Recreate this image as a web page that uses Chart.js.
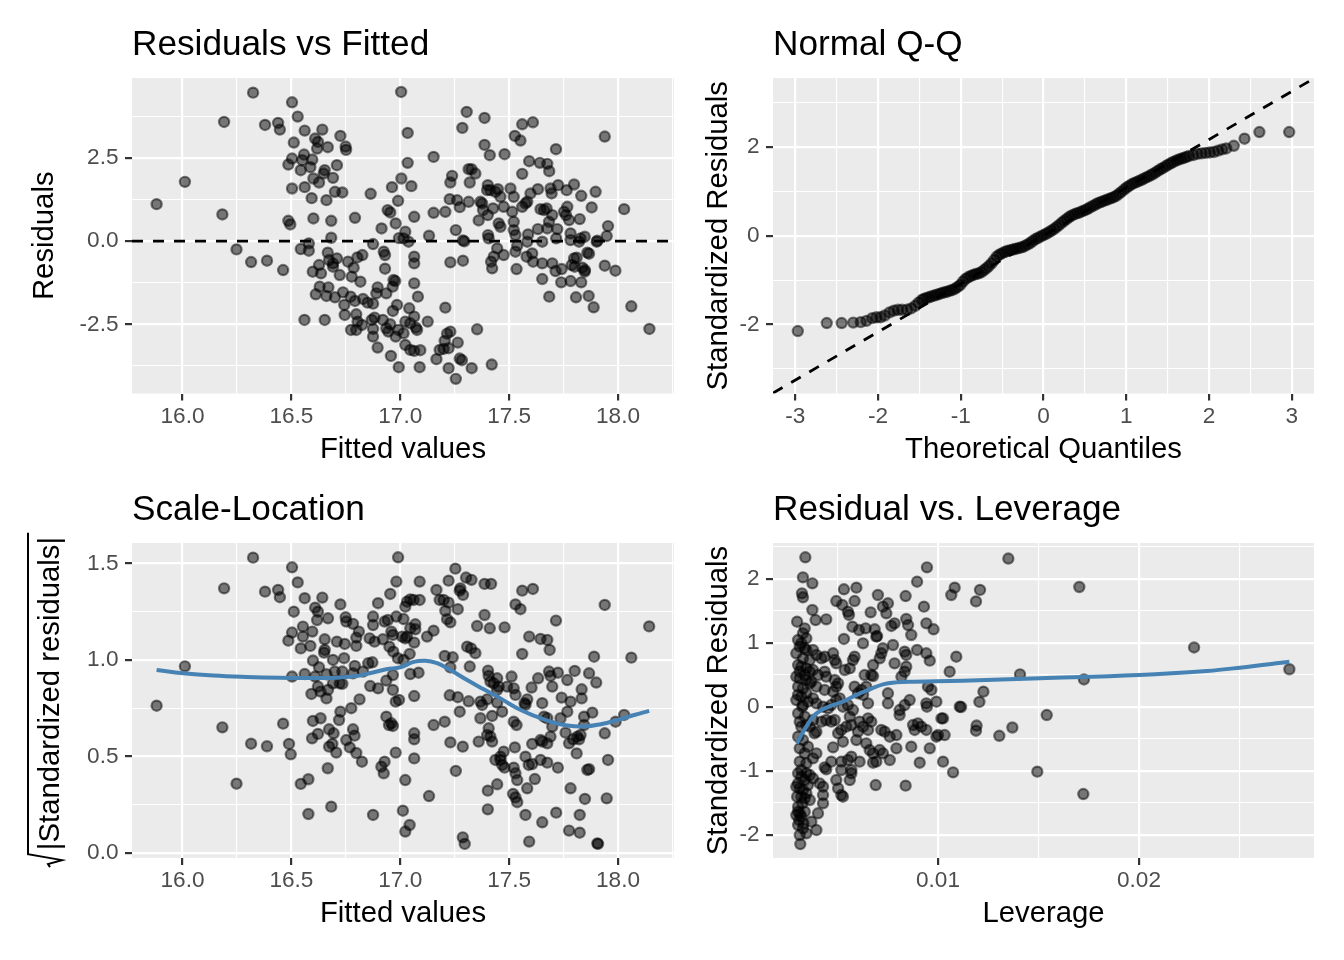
<!DOCTYPE html>
<html>
<head>
<meta charset="utf-8">
<script src="https://cdn.jsdelivr.net/npm/chart.js@4.4.1/dist/chart.umd.min.js"></script>
<style>
html, body { margin: 0; padding: 0; background: #fff; }
#wrap { position: relative; width: 1344px; height: 960px; }
#wrap canvas { position: absolute; left: 0; top: 0; }
</style>
</head>
<body>
<div id="wrap">
  <canvas id="resFit" width="1344" height="960"></canvas>
  <canvas id="qq" width="1344" height="960"></canvas>
  <canvas id="scaleLoc" width="1344" height="960"></canvas>
  <canvas id="resLev" width="1344" height="960"></canvas>
</div>
<script>
// ---- Residuals vs Fitted : [fitted, residual]
const residPoints = [
  [15.881,1.11],[16.011,1.78],[16.191,3.58],[16.183,0.80],[16.324,4.46],[16.248,-0.25],[16.315,-0.63],[16.388,-0.59],
  [16.462,-0.87],[16.379,3.49],[16.439,3.55],[16.447,3.35],[16.503,4.17],[16.529,3.74],[16.561,3.32],[16.642,3.35],
  [16.725,3.16],[16.749,2.84],[16.751,2.74],[16.609,3.08],[16.622,2.98],[16.618,2.78],[16.667,2.82],[16.511,2.96],
  [16.503,2.48],[16.486,2.30],[16.558,2.60],[16.550,2.43],[16.596,2.45],[16.587,2.22],[16.543,2.13],[16.653,2.13],
  [16.648,2.03],[16.709,2.28],[16.691,1.90],[16.601,1.88],[16.627,1.76],[16.503,1.58],[16.561,1.62],[16.700,1.48],
  [16.734,1.46],[16.593,1.29],[16.661,1.23],[16.864,1.42],[16.962,1.62],[17.005,1.88],[16.990,1.21],[16.942,0.93],
  [16.954,0.86],[16.979,0.53],[16.914,0.38],[16.792,0.70],[16.683,0.61],[16.601,0.68],[16.486,0.61],[16.495,0.50],
  [16.683,0.10],[16.875,-0.09],[16.994,0.09],[16.580,-0.07],[16.543,-0.24],[16.580,-0.29],[16.667,-0.35],[16.627,-0.72],
  [16.673,-0.57],[16.691,-0.67],[16.709,-0.52],[16.691,-0.77],[16.598,-0.92],[16.636,-0.97],[16.722,-1.02],[16.760,-0.62],
  [16.803,-0.49],[16.826,-0.42],[16.786,-0.80],[16.777,-1.07],[16.817,-1.22],[16.924,-0.32],[16.930,-0.42],[16.930,-0.83],
  [16.969,-1.17],[16.630,-1.37],[16.670,-1.39],[16.612,-1.60],[16.661,-1.65],[16.700,-1.69],[16.737,-1.54],[16.743,-1.92],
  [16.772,-1.67],[16.792,-1.80],[16.829,-1.74],[16.850,-1.85],[16.875,-1.88],[16.896,-1.39],[16.890,-1.57],[16.936,-1.57],
  [16.965,-1.37],[16.977,-1.20],[16.985,-1.92],[16.966,-2.10],[16.560,-2.37],[16.653,-2.37],[16.745,-2.22],[16.798,-2.20],
  [16.804,-2.42],[16.774,-2.67],[16.798,-2.67],[16.824,-2.52],[16.869,-2.37],[16.882,-2.30],[16.875,-2.64],[16.875,-2.87],
  [16.920,-2.37],[16.936,-2.62],[16.954,-2.50],[16.945,-2.72],[16.979,-2.87],[16.991,-2.67],[16.896,-3.20],[16.957,-3.45],
  [16.993,-3.79],[17.004,4.48],
  [17.034,3.25],[17.034,2.35],[17.051,1.65],[17.064,0.73],[17.023,0.28],[17.015,0.08],[17.038,-0.02],[17.064,-0.47],
  [17.064,-0.67],[17.064,-1.27],[17.081,-1.67],[17.041,-2.02],[17.064,-2.27],[17.023,-2.42],[17.046,-2.47],[17.072,-2.60],
  [17.077,-2.67],[17.015,-2.77],[17.023,-3.12],[17.046,-3.27],[17.064,-3.30],[17.092,-3.28],[17.089,-3.79],[17.126,-2.42],
  [17.207,-2.00],[17.166,-3.55],[17.181,-3.27],[17.199,-3.24],[17.204,-3.00],[17.215,-2.78],[17.230,-2.72],[17.222,-3.22],
  [17.222,-3.82],[17.264,-3.05],[17.273,-3.53],[17.283,-3.58],[17.255,-4.14],[17.328,-3.82],[17.353,-2.65],[17.420,-3.71],
  [17.153,2.53],[17.285,3.40],[17.305,3.88],[17.387,3.70],[17.387,2.89],[17.411,2.58],[17.479,2.61],[17.526,3.16],
  [17.552,3.02],[17.560,3.51],[17.609,3.57],[17.715,2.76],[17.939,3.14],[17.592,2.40],[17.641,2.35],[17.675,2.32],
  [17.684,2.10],[17.560,2.02],[17.314,2.16],[17.327,2.16],[17.345,2.03],[17.238,1.96],[17.230,1.76],[17.319,1.76],
  [17.227,1.26],[17.261,1.23],[17.273,1.02],[17.314,1.18],[17.153,0.85],[17.207,0.88],[17.255,0.33],[17.132,0.16],
  [17.288,0.02],[17.294,-0.01],[17.230,-0.64],[17.288,-0.59],[17.402,1.68],[17.414,1.53],[17.437,1.48],[17.448,1.56],
  [17.399,1.53],[17.368,1.18],[17.376,1.13],[17.380,0.93],[17.402,0.78],[17.360,0.62],[17.426,0.98],[17.460,1.33],
  [17.475,1.03],[17.506,1.58],[17.521,1.33],[17.514,0.88],[17.452,0.53],[17.460,0.43],[17.403,0.18],[17.406,0.08],
  [17.521,0.58],[17.521,0.33],[17.529,0.18],[17.560,1.03],[17.575,1.13],[17.583,1.18],[17.598,1.43],[17.632,1.56],
  [17.587,0.20],[17.583,-0.02],[17.537,-0.14],[17.529,-0.32],[17.445,-0.22],[17.429,-0.47],[17.417,-0.62],[17.422,-0.82],
  [17.475,-0.42],[17.534,-0.84],[17.580,-0.47],[17.606,-0.37],[17.610,-0.62],[17.652,-0.02],[17.652,-0.67],[17.652,-1.14],
  [17.684,-1.67],[17.644,0.96],[17.660,0.93],[17.672,0.98],[17.675,0.38],[17.683,0.58],[17.698,0.78],[17.632,0.36],
  [17.690,1.58],[17.695,1.43],[17.725,1.68],[17.764,1.53],[17.798,1.70],[17.831,1.36],[17.897,1.48],[17.879,1.01],
  [17.824,0.66],[17.752,0.88],[17.767,1.03],[17.775,0.63],[17.761,0.78],[17.721,0.36],[17.716,0.08],[17.782,0.23],
  [17.782,0.03],[17.828,0.08],[17.821,-0.02],[17.847,0.13],[17.905,0.01],[17.902,-0.02],[17.948,0.15],[17.954,0.45],
  [17.859,-0.35],[17.867,-0.38],[17.798,-0.52],[17.810,-0.50],[17.787,-0.72],[17.801,-0.77],[17.836,-0.80],[17.847,-0.92],
  [17.848,-0.87],[17.698,-0.67],[17.713,-0.90],[17.741,-0.84],[17.739,-1.24],[17.782,-1.20],[17.831,-1.24],[17.807,-1.69],
  [17.865,-1.65],[17.888,-1.99],[17.939,-0.74],[17.988,-0.89],[18.028,0.96],[18.061,-1.96],[18.144,-2.64]
];
const residRefY = 0;

// ---- Normal Q-Q : theoretical quantile / standardized residual
const qqTheo = [
  -2.97,-2.62,-2.44,-2.30,-2.21,-2.14,-2.07,-2.02,-1.97,-1.92,-1.86,-1.81,-1.76,-1.71,-1.65,-1.60,-1.55,-1.51,-1.47,
  -1.445,-1.413,-1.382,-1.351,-1.319,-1.288,-1.256,-1.225,-1.193,-1.162,
  -1.131,-1.099,-1.068,-1.036,-1.005,-0.974,-0.942,-0.911,-0.879,-0.848,
  -0.817,-0.785,-0.754,-0.722,-0.691,-0.660,-0.628,-0.597,-0.565,-0.534,
  -0.503,-0.471,-0.440,-0.408,-0.377,-0.345,-0.314,-0.283,-0.251,-0.220,
  -0.188,-0.157,-0.126,-0.094,-0.063,-0.031,0.000,0.031,0.063,0.094,
  0.126,0.157,0.188,0.220,0.251,0.283,0.314,0.345,0.377,0.408,
  0.440,0.471,0.503,0.534,0.565,0.597,0.628,0.660,0.691,0.722,
  0.754,0.785,0.817,0.848,0.879,0.911,0.942,0.974,1.005,1.036,
  1.068,1.099,1.131,1.162,1.193,1.225,1.256,1.288,1.319,1.351,
  1.382,1.413,1.445,1.476,1.508,1.539,1.570,1.602,1.633,1.665,
  1.696,1.727,1.759,
  1.81,1.86,1.91,1.96,2.01,2.06,2.11,2.16,2.21,2.30,2.43,2.61,2.97
];
const qqSample = [
  -2.15,-1.97,-1.97,-1.96,-1.95,-1.92,-1.86,-1.84,-1.84,-1.80,-1.73,-1.69,-1.67,-1.67,-1.67,-1.64,-1.58,-1.51,-1.45,
  -1.425,-1.403,-1.388,-1.365,-1.350,-1.328,-1.313,-1.290,-1.275,-1.260,
  -1.238,-1.223,-1.193,-1.155,-1.110,-1.035,-0.975,-0.938,-0.908,-0.885,
  -0.863,-0.848,-0.825,-0.780,-0.735,-0.683,-0.623,-0.548,-0.473,-0.428,
  -0.398,-0.368,-0.345,-0.330,-0.315,-0.300,-0.285,-0.270,-0.255,-0.225,
  -0.195,-0.158,-0.113,-0.075,-0.045,-0.015,0.015,0.045,0.075,0.113,
  0.150,0.195,0.240,0.293,0.338,0.383,0.428,0.458,0.488,0.510,
  0.525,0.555,0.578,0.608,0.638,0.675,0.705,0.735,0.758,0.780,
  0.803,0.825,0.848,0.870,0.900,0.945,0.990,1.043,1.088,1.125,
  1.163,1.193,1.215,1.245,1.268,1.298,1.328,1.358,1.388,1.425,
  1.463,1.500,1.530,1.568,1.605,1.635,1.665,1.695,1.718,1.740,
  1.755,1.778,1.800,
  1.82,1.85,1.86,1.87,1.88,1.89,1.92,1.95,1.97,2.03,2.19,2.34,2.34
];
const qqLineX = [-3.27, 3.27];
const qqLineY = [-3.55, 3.55];

// ---- Scale-Location : [fitted, sqrt|std resid|]
const scalePoints = [
  [15.881,0.763],[16.011,0.967],[16.191,1.371],[16.324,1.530],[16.183,0.651],[16.248,0.359],[16.315,0.566],[16.388,0.553],
  [16.462,0.670],[16.489,0.565],[16.497,0.511],[16.379,1.354],[16.439,1.363],[16.447,1.325],[16.503,1.480],[16.529,1.402],
  [16.561,1.320],[16.642,1.323],[16.725,1.288],[16.609,1.271],[16.622,1.250],[16.618,1.207],[16.668,1.216],[16.511,1.250],
  [16.503,1.142],[16.486,1.100],[16.553,1.173],[16.596,1.147],[16.553,1.121],[16.587,1.073],[16.543,1.060],[16.653,1.107],
  [16.653,1.052],[16.650,1.038],[16.709,1.095],[16.745,1.083],[16.749,1.221],[16.752,1.199],[16.783,1.187],[16.810,1.147],
  [16.798,1.116],[16.798,1.073],[16.875,1.225],[16.898,1.294],[16.875,1.181],[16.954,1.342],[16.982,1.406],[16.990,1.532],
  [16.859,1.112],[16.882,1.095],[16.928,1.199],[16.943,1.207],[16.920,1.107],[16.959,1.147],[16.966,1.130],[16.982,1.225],
  [16.950,1.069],[16.968,1.043],[16.989,1.009],[16.599,0.997],[16.627,0.962],[16.691,1.000],[16.742,1.009],[16.791,0.969],
  [16.853,0.983],[16.872,0.988],[16.503,0.914],[16.561,0.927],[16.609,0.914],[16.661,0.926],[16.699,0.940],[16.734,0.940],
  [16.783,0.931],[16.829,0.940],[16.622,0.862],[16.634,0.836],[16.668,0.845],[16.691,0.879],[16.722,0.879],[16.734,0.876],
  [16.592,0.824],[16.661,0.801],[16.862,0.865],[16.898,0.853],[16.936,0.893],[16.966,0.922],[16.966,0.845],[16.979,0.784],
  [16.994,0.793],[16.813,0.796],[16.775,0.750],[16.725,0.732],[16.719,0.689],[16.599,0.684],[16.634,0.698],[16.595,0.594],
  [16.622,0.617],[16.673,0.641],[16.694,0.620],[16.673,0.551],[16.688,0.565],[16.706,0.520],[16.752,0.585],[16.768,0.547],
  [16.783,0.641],[16.790,0.608],[16.798,0.518],[16.824,0.473],[16.936,0.706],[16.948,0.663],[16.959,0.672],[16.966,0.658],
  [16.913,0.447],[16.924,0.413],[16.928,0.473],[16.979,0.520],[16.667,0.439],[16.578,0.382],[16.543,0.358],[16.683,0.240],
  [16.578,0.202],[16.875,0.197],
  [17.015,1.212],[17.008,1.121],[17.023,1.112],[17.089,1.406],[17.031,1.302],[17.046,1.314],[17.061,1.311],[17.089,1.311],
  [17.023,1.276],[17.069,1.185],[17.069,1.159],[17.046,1.164],[17.031,1.121],[17.064,1.090],[17.123,1.121],[17.153,1.152],
  [17.043,1.031],[17.015,1.000],[17.046,0.927],[17.084,0.934],[17.064,0.813],[17.064,0.620],[17.064,0.589],[17.064,0.490],
  [17.023,0.378],[17.012,0.219],[17.023,0.111],[17.043,0.145],[17.132,0.295],[17.153,0.663],[17.204,0.680],[17.230,0.573],
  [17.287,0.551],[17.255,0.425],[17.287,0.081],[17.296,0.047],[17.166,1.363],[17.181,1.311],[17.199,1.311],[17.222,1.297],
  [17.222,1.411],[17.253,1.473],[17.276,1.371],[17.273,1.359],[17.288,1.337],[17.302,1.427],[17.327,1.415],[17.207,1.254],
  [17.215,1.211],[17.230,1.195],[17.264,1.263],[17.387,1.394],[17.417,1.394],[17.387,1.233],[17.353,1.176],[17.411,1.164],
  [17.479,1.169],[17.307,1.069],[17.325,1.060],[17.345,1.035],[17.204,1.021],[17.241,1.014],[17.230,0.962],[17.319,0.966],
  [17.227,0.817],[17.264,0.807],[17.314,0.786],[17.273,0.732],[17.368,0.784],[17.376,0.767],[17.399,0.796],[17.445,0.779],
  [17.403,0.945],[17.406,0.917],[17.414,0.888],[17.429,0.879],[17.445,0.905],[17.452,0.862],[17.445,0.845],[17.491,0.862],
  [17.511,0.914],[17.521,0.853],[17.529,0.819],[17.368,0.698],[17.406,0.646],[17.414,0.603],[17.399,0.611],[17.422,0.577],
  [17.422,0.710],[17.360,0.577],[17.468,0.732],[17.521,0.680],[17.534,0.663],[17.475,0.525],[17.460,0.499],[17.437,0.482],
  [17.460,0.482],[17.468,0.456],[17.479,0.442],[17.526,0.547],[17.521,0.442],[17.529,0.413],[17.537,0.378],[17.402,0.323],
  [17.445,0.356],[17.402,0.226],[17.518,0.306],[17.529,0.288],[17.537,0.263],[17.575,0.197],[17.592,0.059],[17.652,0.159],
  [17.716,0.209],[17.583,0.335],[17.618,0.383],[17.575,0.499],[17.590,0.456],[17.606,0.461],[17.644,0.482],[17.675,0.468],
  [17.724,0.442],[17.529,1.288],[17.552,1.263],[17.560,1.359],[17.609,1.368],[17.592,1.121],[17.644,1.109],[17.675,1.104],
  [17.686,1.052],[17.560,1.031],[17.715,1.204],[17.939,1.285],[18.143,1.174],[17.890,1.017],[18.061,1.012],[17.571,0.776],
  [17.575,0.767],[17.583,0.796],[17.603,0.857],[17.633,0.905],[17.652,0.776],[17.683,0.940],[17.690,0.917],[17.698,0.862],
  [17.724,0.934],[17.767,0.896],[17.801,0.943],[17.833,0.848],[17.833,0.801],[17.867,0.931],[17.900,0.883],[17.741,0.805],
  [17.782,0.784],[17.767,0.732],[17.660,0.706],[17.675,0.698],[17.698,0.655],[17.690,0.603],[17.652,0.577],[17.675,0.568],
  [17.644,0.585],[17.606,0.565],[17.736,0.698],[17.759,0.623],[17.775,0.568],[17.794,0.589],[17.813,0.603],[17.828,0.611],
  [17.821,0.589],[17.810,0.516],[17.844,0.706],[17.882,0.727],[17.844,0.663],[17.939,0.620],[17.989,0.680],[18.028,0.715],
  [17.954,0.482],[17.859,0.430],[17.867,0.434],[17.782,0.335],[17.848,0.280],[17.948,0.283],[17.824,0.197],[17.775,0.116],
  [17.824,0.105],[17.905,0.050],[17.908,0.047]
];
const scaleSmoothX = [15.881,16.003,16.141,16.294,16.446,16.599,16.706,16.798,16.859,16.936,17.000,17.061,17.115,17.169,
  17.230,17.307,17.383,17.460,17.537,17.613,17.690,17.767,17.844,17.920,17.997,18.074,18.143];
const scaleSmoothY = [0.948,0.931,0.919,0.912,0.908,0.907,0.908,0.917,0.931,0.952,0.962,0.990,0.996,0.983,
  0.948,0.896,0.848,0.801,0.750,0.712,0.680,0.660,0.655,0.667,0.689,0.715,0.736];

// ---- Residual vs. Leverage : [leverage, std resid]
const leveragePoints = [
  [0.00340,2.339],[0.00328,2.026],[0.00375,1.932],[0.00323,1.776],[0.00328,1.714],[0.00375,1.516],[0.00391,1.359],[0.00444,1.370],
  [0.00299,1.333],[0.00337,1.229],[0.00328,1.151],[0.00345,1.073],[0.00304,1.047],[0.00312,0.943],[0.00320,0.995],[0.00337,0.917],
  [0.00345,0.891],[0.00378,0.891],[0.00395,0.813],[0.00420,0.760],[0.00436,0.786],[0.00478,0.839],[0.00486,0.734],[0.00494,0.682],
  [0.00304,0.656],[0.00320,0.630],[0.00345,0.604],[0.00362,0.552],[0.00378,0.578],[0.00403,0.500],[0.00436,0.552],[0.00444,0.474],
  [0.00295,0.474],[0.00312,0.448],[0.00345,0.422],[0.00362,0.370],[0.00370,0.396],[0.00395,0.318],[0.00436,0.266],[0.00486,0.422],
  [0.00494,0.318],[0.00478,0.240],[0.00503,0.370],[0.00304,0.188],[0.00320,0.161],[0.00345,0.214],[0.00378,0.135],[0.00395,0.057],
  [0.00295,0.109],[0.00325,0.005],[0.00328,0.031],[0.00312,-0.229],[0.00320,-0.307],[0.00345,-0.281],[0.00378,-0.203],[0.00395,-0.385],
  [0.00386,-0.411],[0.00420,-0.229],[0.00444,-0.203],[0.00469,-0.229],[0.00486,-0.203],[0.00503,-0.411],[0.00527,-0.542],[0.00519,-0.359],
  [0.00544,-0.307],[0.00569,-0.281],[0.00312,-0.646],[0.00353,-0.620],[0.00337,-0.724],[0.00378,-0.802],[0.00395,-0.724],[0.00478,-0.630],
  [0.00436,-0.943],[0.00444,-0.974],[0.00312,-0.854],[0.00304,-1.036],[0.00320,-0.984],[0.00345,-1.036],[0.00362,-1.063],[0.00378,-1.115],
  [0.00337,-1.141],[0.00295,-1.245],[0.00312,-1.271],[0.00328,-1.297],[0.00345,-1.349],[0.00320,-1.401],[0.00337,-1.427],[0.00362,-1.453],
  [0.00411,-1.193],[0.00428,-1.245],[0.00428,-1.375],[0.00428,-1.505],[0.00403,-1.661],[0.00395,-1.922],[0.00370,-1.792],[0.00304,-1.557],
  [0.00312,-1.661],[0.00320,-1.714],[0.00304,-1.844],[0.00328,-1.896],[0.00345,-1.974],[0.00295,-1.688],[0.00312,-2.000],[0.00315,-2.141],
  [0.00469,-0.854],[0.00519,-0.854],[0.00552,-0.828],[0.00569,-0.776],[0.00494,-1.141],[0.00503,-1.271],[0.00519,-1.375],[0.00527,-1.401],
  [0.00561,-1.141],[0.00519,-0.984],[0.00569,-0.984],[0.00569,-1.036],
  [0.00299,-1.401],[0.00325,-1.505],[0.00304,-1.635],[0.00337,-1.635],[0.00309,-1.766],[0.00331,-1.818],[0.00304,-1.193],[0.00353,-1.219],
  [0.00320,-1.089],[0.00295,0.839],[0.00328,0.760],[0.00362,0.734],[0.00312,0.552],[0.00337,0.500],[0.00304,0.318],[0.00328,0.292],
  [0.00353,0.083],[0.00304,-0.099],[0.00337,-0.151],[0.00362,-0.307],[0.00304,-0.464],[0.00328,-0.516],[0.00345,-0.880],
  [0.00532,1.839],[0.00594,1.865],[0.00494,1.656],[0.00524,1.594],[0.00585,1.656],[0.00552,1.490],[0.00557,1.438],[0.00574,1.255],
  [0.00607,1.203],[0.00640,1.229],[0.00532,1.063],[0.00627,0.995],[0.00665,1.479],[0.00701,1.750],[0.00751,1.620],[0.00726,1.568],
  [0.00743,1.464],[0.00768,1.266],[0.00784,1.307],[0.00685,1.214],[0.00693,1.099],[0.00697,1.109],[0.00776,0.969],[0.00726,0.917],
  [0.00718,0.839],[0.00710,0.760],[0.00677,0.656],[0.00668,0.500],[0.00677,0.484],[0.00635,0.500],[0.00643,0.318],[0.00585,0.786],
  [0.00577,0.734],[0.00561,0.604],[0.00536,0.578],[0.00585,0.318],[0.00619,0.266],[0.00627,0.188],[0.00652,0.057],[0.00602,0.214],
  [0.00511,0.135],[0.00494,0.109],[0.00527,0.005],[0.00552,0.031],[0.00428,0.005],[0.00453,-0.021],[0.00469,0.031],[0.00577,-0.047],
  [0.00561,-0.151],[0.00610,-0.229],[0.00627,-0.307],[0.00652,-0.359],[0.00652,-0.177],[0.00668,-0.229],[0.00602,-0.385],[0.00594,-0.516],
  [0.00643,-0.568],[0.00660,-0.672],[0.00677,-0.724],[0.00710,-0.672],[0.00726,-0.724],[0.00760,-0.828],[0.00693,-0.854],[0.00677,-0.870],
  [0.00610,-0.854],[0.00718,-0.359],[0.00735,-0.385],[0.00760,-0.464],[0.00793,-0.438],[0.00793,-0.646],[0.00690,-1.219],[0.00839,-1.229],
  [0.00751,0.214],[0.00751,0.057],[0.00809,-0.047],[0.00809,-0.125],[0.00834,0.031],[0.00859,0.109],[0.00842,0.630],[0.00842,0.813],
  [0.00834,0.865],[0.00784,0.682],[0.00839,1.734],[0.00842,1.375],[0.00851,1.281],[0.00867,1.125],[0.00818,0.474],[0.00834,0.552],
  [0.00876,-0.281],[0.00884,-0.359],[0.00900,-0.255],[0.00942,-0.359],[0.00917,-0.307],[0.00867,-0.620],[0.00909,-0.870],[0.00959,-0.646],
  [0.00992,-0.464],[0.01000,-0.438],[0.01025,-0.177],[0.01017,-0.177],[0.01033,-0.438],[0.01025,-0.854],[0.01075,-1.021],[0.00896,1.958],
  [0.00945,2.182],[0.00930,1.568],[0.00942,1.307],[0.00978,1.214],[0.00896,0.891],[0.00942,0.839],[0.00959,0.724],[0.00950,0.318],
  [0.00967,0.266],[0.00942,0.057],[0.00945,0.005],[0.00992,0.083],[0.01058,0.552],[0.01091,0.786],[0.01066,1.750],[0.01083,1.865],
  [0.01108,0.005],[0.01115,0.000],
  [0.01350,2.320],[0.01209,1.830],[0.01189,1.650],[0.01703,1.875],[0.01408,0.510],[0.01726,0.430],[0.01226,0.240],[0.01206,0.080],
  [0.01192,-0.290],[0.01189,-0.370],[0.01305,-0.450],[0.01370,-0.320],[0.01541,-0.125],[0.01494,-1.010],[0.01723,-1.360],[0.02274,0.930],
  [0.02748,0.590]
];
const levSmoothX = [0.00298,0.00320,0.00345,0.00378,0.00420,0.00469,0.00527,0.00594,0.00660,0.00726,0.00793,0.00876,0.00992,
  0.01124,0.01507,0.02000,0.02337,0.02502,0.02748];
const levSmoothY = [-0.568,-0.438,-0.307,-0.151,-0.047,0.021,0.083,0.188,0.276,0.354,0.385,0.396,0.401,
  0.411,0.448,0.500,0.563,0.615,0.708];

// ---- axis breaks and labels
const fitMajor = [16.0, 16.5, 17.0, 17.5, 18.0];
const fitMinor = [16.25, 16.75, 17.25, 17.75, 18.25];
const fitLabels = ['16.0', '16.5', '17.0', '17.5', '18.0'];
const resMajor = [-2.5, 0, 2.5];
const resMinor = [-3.75, -1.25, 1.25, 3.75];
const resLabels = ['-2.5', '0.0', '2.5'];
const theoMajor = [-3, -2, -1, 0, 1, 2, 3];
const theoMinor = [-2.5, -1.5, -0.5, 0.5, 1.5, 2.5];
const theoLabels = ['-3', '-2', '-1', '0', '1', '2', '3'];
const qqYMajor = [-2, 0, 2];
const qqYMinor = [-3, -1, 1, 3];
const qqYLabels = ['-2', '0', '2'];
const slMajor = [0, 0.5, 1.0, 1.5];
const slMinor = [0.25, 0.75, 1.25];
const slLabels = ['0.0', '0.5', '1.0', '1.5'];
const levMajor = [0.01, 0.02];
const levMinor = [0.005, 0.015, 0.025];
const levLabels = ['0.01', '0.02'];
const lsMajor = [-2, -1, 0, 1, 2];
const lsMinor = [-1.5, -0.5, 0.5, 1.5, 2.5];
const lsLabels = ['-2', '-1', '0', '1', '2'];

const FONT = '"Liberation Sans", Arial, Helvetica, sans-serif';
const PT = 'rgba(0,0,0,0.5)';
const BLUE = '#4682B4';
const Y_W = 100, X_H = 80;

// grey panel behind the grid
const panelBg = {
    id: 'panelBg',
    beforeDraw(chart) {
        const {ctx, chartArea: a} = chart;
        ctx.save();
        ctx.fillStyle = '#EBEBEB';
        ctx.fillRect(a.left, a.top, a.right - a.left, a.bottom - a.top);
        ctx.restore();
    }
};

// titles drawn ggplot style, aligned to the panel
function titles(t) {
    return {
        id: 'ggText',
        afterDraw(chart) {
            const {ctx, chartArea: a} = chart;
            ctx.save();
            ctx.fillStyle = '#000';
            ctx.textBaseline = 'alphabetic';
            ctx.font = '35.2px ' + FONT;
            ctx.textAlign = 'left';
            ctx.fillText(t.title, a.left, a.top - 23);
            ctx.font = '29.3px ' + FONT;
            ctx.textAlign = 'center';
            ctx.fillText(t.x, (a.left + a.right) / 2, a.bottom + 64);
            ctx.translate(t.yBase, (a.top + a.bottom) / 2);
            ctx.rotate(-Math.PI / 2);
            if (t.sqrt) {
                const w = ctx.measureText(t.y).width;
                ctx.fillText(t.y, 7, 0);
                const u0 = 7 - w / 2 - 4, u1 = 7 + w / 2 + 4;
                ctx.strokeStyle = '#000';
                ctx.lineWidth = 2;
                ctx.beginPath();
                ctx.moveTo(u1, -31);
                ctx.lineTo(u0, -31);
                ctx.lineTo(u0 - 6, 3);
                ctx.lineTo(u0 - 10, -11);
                ctx.lineTo(u0 - 13, -9);
                ctx.stroke();
            } else {
                ctx.fillText(t.y, 0, 0);
            }
            ctx.restore();
        }
    };
}

function axis(min, max, major, minor, labels, horizontal) {
    const isMajor = v => major.includes(v);
    return {
        type: 'linear',
        position: horizontal ? 'bottom' : 'left',
        min: min,
        max: max,
        afterBuildTicks: s => { s.ticks = major.concat(minor).sort((a, b) => a - b).map(v => ({value: v})); },
        afterFit: s => { if (horizontal) s.height = X_H; else s.width = Y_W; },
        ticks: {
            autoSkip: false,
            maxRotation: 0,
            padding: horizontal ? 2.5 : 6.5,
            color: '#4D4D4D',
            font: {family: FONT, size: 22.6},
            callback: v => { const i = major.indexOf(v); return i < 0 ? '' : labels[i]; }
        },
        grid: {
            color: '#FFFFFF',
            lineWidth: c => isMajor(c.tick.value) ? 2.2 : 1.1,
            drawTicks: true,
            tickLength: 7,
            tickWidth: 2.2,
            tickColor: c => isMajor(c.tick.value) ? '#333333' : 'rgba(0,0,0,0)'
        },
        border: {display: false}
    };
}

function pointSet(pts) {
    return {
        data: pts.map(p => ({x: p[0], y: p[1]})),
        pointRadius: 5.1,
        pointBorderWidth: 2.2,
        pointBackgroundColor: PT,
        pointBorderColor: PT,
        showLine: false,
        order: 2
    };
}

function lineSet(xs, ys, color, width, dash, tension) {
    return {
        data: xs.map((x, i) => ({x: x, y: ys[i]})),
        showLine: true,
        pointRadius: 0,
        borderColor: color,
        borderWidth: width,
        borderDash: dash,
        tension: tension,
        fill: false,
        order: 1
    };
}

function panel(id, box, xAxis, yAxis, datasets, text) {
    new Chart(document.getElementById(id), {
        type: 'scatter',
        data: {datasets: datasets},
        options: {
            responsive: false,
            animation: false,
            events: [],
            layout: {padding: {
                left: box.L - Y_W, top: box.T,
                right: 1344 - box.R, bottom: 960 - box.B - X_H
            }},
            scales: {x: xAxis, y: yAxis},
            plugins: {legend: {display: false}, tooltip: {enabled: false}, title: {display: false}}
        },
        plugins: [panelBg, titles(text)]
    });
}

// Residuals vs Fitted
panel('resFit', {L: 132, R: 674, T: 78, B: 393.5},
    axis(15.768, 18.257, fitMajor, fitMinor, fitLabels, true),
    axis(-4.58, 4.9, resMajor, resMinor, resLabels, false),
    [lineSet([15.768, 18.257], [residRefY, residRefY], '#000', 2.8, [11, 10], 0), pointSet(residPoints)],
    {title: 'Residuals vs Fitted', x: 'Fitted values', y: 'Residuals', yBase: 53});

// Normal Q-Q
panel('qq', {L: 773, R: 1314, T: 78, B: 393.5},
    axis(-3.27, 3.27, theoMajor, theoMinor, theoLabels, true),
    axis(-3.56, 3.56, qqYMajor, qqYMinor, qqYLabels, false),
    [lineSet(qqLineX, qqLineY, '#000', 2.8, [11, 10], 0), pointSet(qqTheo.map((x, i) => [x, qqSample[i]]))],
    {title: 'Normal Q-Q', x: 'Theoretical Quantiles', y: 'Standardized Residuals', yBase: 727});

// Scale-Location
panel('scaleLoc', {L: 132, R: 674, T: 543, B: 858},
    axis(15.768, 18.257, fitMajor, fitMinor, fitLabels, true),
    axis(-0.026, 1.606, slMajor, slMinor, slLabels, false),
    [lineSet(scaleSmoothX, scaleSmoothY, BLUE, 4, [], 0.4), pointSet(scalePoints)],
    {title: 'Scale-Location', x: 'Fitted values', y: '|Standardized residuals|', yBase: 59, sqrt: true});

// Residual vs. Leverage
panel('resLev', {L: 773, R: 1314, T: 543, B: 858},
    axis(0.001791, 0.028706, levMajor, levMinor, levLabels, true),
    axis(-2.359, 2.5625, lsMajor, lsMinor, lsLabels, false),
    [lineSet(levSmoothX, levSmoothY, BLUE, 4, [], 0.4), pointSet(leveragePoints)],
    {title: 'Residual vs. Leverage', x: 'Leverage', y: 'Standardized Residuals', yBase: 727});
</script>
</body>
</html>
